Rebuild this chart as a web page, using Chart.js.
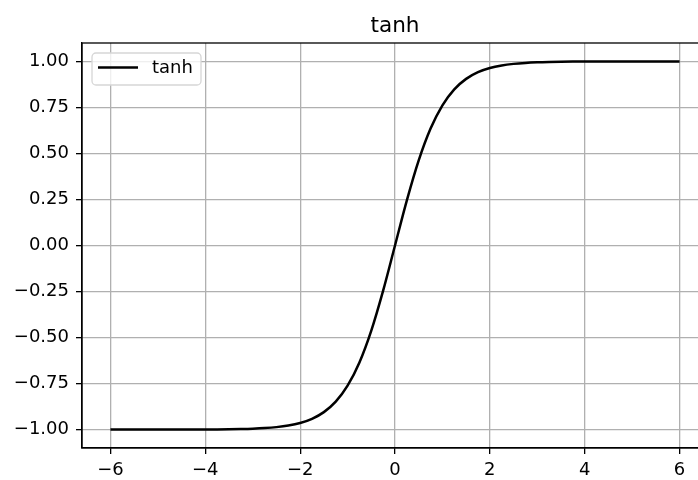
<!DOCTYPE html>
<html>
<head>
<meta charset="utf-8">
<script src="https://cdn.jsdelivr.net/npm/chart.js@4.4.1/dist/chart.umd.min.js"></script>
<style>
  html, body { margin: 0; padding: 0; background: #fff; overflow: hidden; }
  #wrap { width: 720px; height: 480px; position: relative; }
</style>
</head>
<body>
<div id="wrap"><canvas id="c" width="720" height="480"></canvas></div>
<script>
// sample points of the tanh curve
const xValues = [
  -6, -5.75, -5.5, -5.25, -5, -4.75, -4.5, -4.25, -4, -3.75, -3.5, -3.25,
  -3, -2.75, -2.5, -2.25, -2, -1.75, -1.5, -1.25, -1, -0.75, -0.5, -0.25,
  0, 0.25, 0.5, 0.75, 1, 1.25, 1.5, 1.75, 2, 2.25, 2.5, 2.75,
  3, 3.25, 3.5, 3.75, 4, 4.25, 4.5, 4.75, 5, 5.25, 5.5, 5.75, 6
];
const tanhValues = [
  -1.0000, -1.0000, -1.0000, -1.0000, -0.9999, -0.9999, -0.9998, -0.9996,
  -0.9993, -0.9989, -0.9982, -0.9970, -0.9951, -0.9919, -0.9866, -0.9780,
  -0.9640, -0.9414, -0.9051, -0.8483, -0.7616, -0.6351, -0.4621, -0.2449,
  0.0000,
  0.2449, 0.4621, 0.6351, 0.7616, 0.8483, 0.9051, 0.9414, 0.9640,
  0.9780, 0.9866, 0.9919, 0.9951, 0.9970, 0.9982, 0.9989, 0.9993,
  0.9996, 0.9998, 0.9999, 0.9999, 1.0000, 1.0000, 1.0000, 1.0000
];
const xTicks = [-6, -4, -2, 0, 2, 4, 6];
const yTicks = [-1, -0.75, -0.5, -0.25, 0, 0.25, 0.5, 0.75, 1];
const seriesLabel = 'tanh';
const titleText = 'tanh';

const FONT = '"DejaVu Sans", sans-serif';
const TICK_SIZE = 18;
const minus = s => s.replace('-', '\u2212');

// axes frame, title and the inset legend
const decorations = {
  id: 'decorations',
  afterDraw(chart) {
    const { ctx, chartArea: a } = chart;
    ctx.save();
    ctx.strokeStyle = '#000';
    ctx.lineWidth = 1.3;
    ctx.strokeRect(a.left, a.top, a.right - a.left, a.bottom - a.top);

    ctx.fillStyle = '#000';
    ctx.font = '21.6px ' + FONT;
    ctx.textAlign = 'center';
    ctx.textBaseline = 'alphabetic';
    ctx.fillText(titleText, (a.left + a.right) / 2, 32);

    // legend
    const lx = a.left + 10, ly = a.top + 10, lw = 109, lh = 32, r = 4;
    ctx.beginPath();
    ctx.moveTo(lx + r, ly);
    ctx.arcTo(lx + lw, ly, lx + lw, ly + lh, r);
    ctx.arcTo(lx + lw, ly + lh, lx, ly + lh, r);
    ctx.arcTo(lx, ly + lh, lx, ly, r);
    ctx.arcTo(lx, ly, lx + lw, ly, r);
    ctx.closePath();
    ctx.fillStyle = 'rgba(255,255,255,0.8)';
    ctx.fill();
    ctx.strokeStyle = '#d6d6d6';
    ctx.lineWidth = 1.3;
    ctx.stroke();

    ctx.strokeStyle = '#000';
    ctx.lineWidth = 2.5;
    ctx.beginPath();
    ctx.moveTo(lx + 6, ly + 14.5);
    ctx.lineTo(lx + 46, ly + 14.5);
    ctx.stroke();

    ctx.fillStyle = '#000';
    ctx.font = TICK_SIZE + 'px ' + FONT;
    ctx.textAlign = 'left';
    ctx.textBaseline = 'middle';
    ctx.fillText(seriesLabel, lx + 60, ly + 15);
    ctx.restore();
  }
};

new Chart(document.getElementById('c'), {
  type: 'line',
  data: {
    datasets: [{
      label: seriesLabel,
      data: xValues.map((x, i) => ({ x, y: tanhValues[i] })),
      borderColor: '#000',
      borderWidth: 2.5,
      pointRadius: 0,
      fill: false,
      cubicInterpolationMode: 'monotone'
    }]
  },
  options: {
    responsive: false,
    animation: false,
    layout: { padding: { top: 43, right: 12, left: 0, bottom: 0 } },
    plugins: { legend: { display: false }, title: { display: false }, tooltip: { enabled: false } },
    scales: {
      x: {
        type: 'linear',
        min: -6.6, max: 6.6,
        afterBuildTicks: s => { s.ticks = xTicks.map(v => ({ value: v })); },
        afterFit: s => { s.height = 32; },
        grid: { color: '#b0b0b0', lineWidth: 1.3, tickColor: '#000', tickLength: 6, tickWidth: 1.3 },
        border: { display: true, color: '#000', width: 1.3 },
        ticks: {
          color: '#000', font: { family: FONT, size: TICK_SIZE }, padding: 6, maxRotation: 0,
          callback: v => minus(String(v))
        }
      },
      y: {
        type: 'linear',
        min: -1.1, max: 1.1,
        afterBuildTicks: s => { s.ticks = yTicks.map(v => ({ value: v })); },
        afterFit: s => { s.width = 82; },
        grid: { color: '#b0b0b0', lineWidth: 1.3, tickColor: '#000', tickLength: 6, tickWidth: 1.3 },
        border: { display: true, color: '#000', width: 1.3 },
        ticks: {
          color: '#000', font: { family: FONT, size: TICK_SIZE }, padding: 7,
          callback: v => minus(v.toFixed(2))
        }
      }
    }
  },
  plugins: [decorations]
});
</script>
</body>
</html>
